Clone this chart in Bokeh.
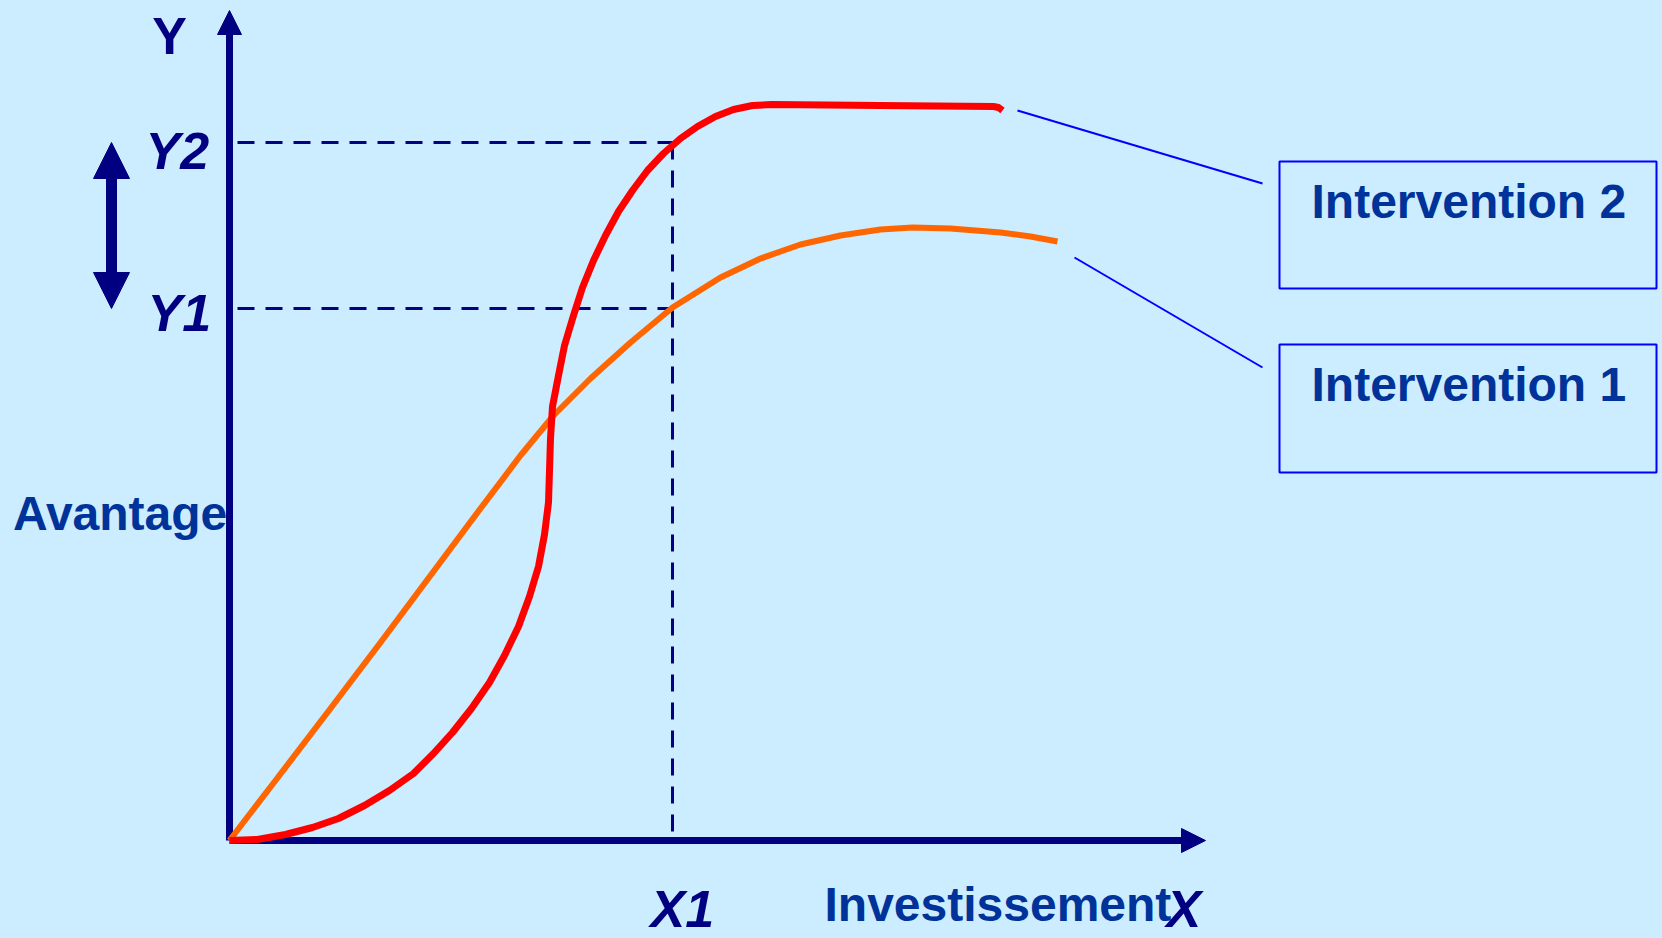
from bokeh.plotting import figure
from bokeh.models import Range1d, Arrow, NormalHead, ColumnDataSource
from bokeh.embed import file_html
from bokeh.resources import INLINE
from bokeh.core.properties import value

# ---------------- data (units: investment on x, advantage on y) ----------------
red_x = [0.00, 0.28, 0.56, 0.83, 1.09, 1.35, 1.60, 1.84, 2.04, 2.23, 2.42, 2.60, 2.75, 2.89,
         3.00, 3.09, 3.15, 3.19, 3.20, 3.21, 3.23, 3.29, 3.35, 3.44, 3.53, 3.64, 3.76, 3.89,
         4.03, 4.18, 4.34, 4.51, 4.68, 4.86, 5.04, 5.23, 5.42, 6.51, 7.64, 7.69, 7.73]
red_y = [0.00, 0.01, 0.06, 0.13, 0.22, 0.35, 0.50, 0.67, 0.87, 1.08, 1.32, 1.58, 1.85, 2.14,
         2.44, 2.74, 3.06, 3.38, 3.70, 4.02, 4.34, 4.65, 4.95, 5.25, 5.53, 5.80, 6.05, 6.29,
         6.50, 6.70, 6.87, 7.02, 7.14, 7.24, 7.31, 7.35, 7.36, 7.35, 7.34, 7.33, 7.30]

orange_x = [0.00, 0.46, 1.01, 1.51, 2.01, 2.51, 2.91, 3.24, 3.61, 4.01, 4.43, 4.91, 5.31,
            5.71, 6.11, 6.51, 6.83, 7.21, 7.71, 8.01, 8.28]
orange_y = [0.00, 0.60, 1.32, 1.98, 2.65, 3.32, 3.85, 4.25, 4.62, 4.98, 5.33, 5.63, 5.82,
            5.96, 6.05, 6.11, 6.13, 6.12, 6.08, 6.04, 5.99]

X1 = 4.43
Y1 = 5.32
Y2 = 6.98
X_MAX = 9.76
Y_MAX = 8.30
DASH_START = 0.08

# leader lines (curve end -> box)
lead_x0 = [7.88, 8.45]
lead_y0 = [7.30, 5.83]
lead_x1 = [10.33, 10.33]
lead_y1 = [6.57, 4.73]

# boxes
box_left = [10.50, 10.50]
box_right = [14.27, 14.27]
box_top = [6.79, 4.96]
box_bottom = [5.52, 3.68]
box_labels = ["Intervention 2", "Intervention 1"]
box_label_x = [10.82, 10.82]
box_label_y = [6.39, 4.56]

# axis titles
title_text = ["Avantage", "Investissement"]
title_x = [-2.165, 5.95]
title_y = [3.27, -0.64]

# axis marks
mark_text = ["Y2", "Y1", "X1", "X"]
mark_x = [-0.84, -0.82, 4.21, 9.37]
mark_y = [6.90, 5.28, -0.68, -0.68]

# double arrow (Y1 <-> Y2)
DA_X = -1.18

BG = "#CCECFF"
NAVY = "#000080"
TXT = "#003399"

p = figure(width=1662, height=938, output_backend="svg", toolbar_location=None,
           x_axis_type=None, y_axis_type=None,
           x_range=Range1d(-2.29, 14.33), y_range=Range1d(-0.98, 8.40),
           min_border=0, background_fill_color=BG, border_fill_color=BG,
           outline_line_color=None)

# axes as arrows (under the curves)
for (xs, ys, xe, ye) in [(0, 0, 0, Y_MAX), (0, 0, X_MAX, 0)]:
    p.add_layout(Arrow(x_start=xs, y_start=ys, x_end=xe, y_end=ye,
                       line_color=NAVY, line_width=7, level="underlay",
                       end=NormalHead(size=24, fill_color=NAVY, line_color=NAVY, line_width=1)))

# double arrow
p.add_layout(Arrow(x_start=DA_X, y_start=Y1, x_end=DA_X, y_end=Y2,
                   line_color=NAVY, line_width=11,
                   start=NormalHead(size=36, fill_color=NAVY, line_color=NAVY, line_width=1),
                   end=NormalHead(size=36, fill_color=NAVY, line_color=NAVY, line_width=1)))

# dashed reference lines
p.line([DASH_START, X1], [Y2, Y2], line_color=NAVY, line_width=3, line_dash="17 11")
p.line([DASH_START, X1], [Y1, Y1], line_color=NAVY, line_width=3, line_dash="17 11")
p.line([X1, X1], [Y2, 0], line_color=NAVY, line_width=3, line_dash="17 11")

# curves
p.line(orange_x, orange_y, line_color="#FF6600", line_width=6, line_join="round")
p.line(red_x, red_y, line_color="#FF0000", line_width=7, line_join="round")

# leaders
p.segment(lead_x0, lead_y0, lead_x1, lead_y1, line_color="#0000FF", line_width=2)

# boxes
p.quad(left=box_left, right=box_right, top=box_top, bottom=box_bottom,
       fill_color=None, line_color="#0000FF", line_width=2)

src_box = ColumnDataSource(dict(x=box_label_x, y=box_label_y, t=box_labels))
p.text(x="x", y="y", text="t", source=src_box, text_font=value("Liberation Sans"),
       text_font_style="bold", text_font_size="48px", text_color=TXT,
       text_align="left", text_baseline="alphabetic")

src_title = ColumnDataSource(dict(x=title_x, y=title_y, t=title_text))
p.text(x="x", y="y", text="t", source=src_title, text_font=value("Liberation Sans"),
       text_font_style="bold", text_font_size="48px", text_color=TXT,
       text_align="left", text_baseline="alphabetic")

src_mark = ColumnDataSource(dict(x=mark_x, y=mark_y, t=mark_text))
p.text(x="x", y="y", text="t", source=src_mark, text_font=value("Liberation Sans"),
       text_font_style="bold italic", text_font_size="52px", text_color=NAVY,
       text_align="left", text_baseline="alphabetic")

p.text(x=[-0.60], y=[8.05], text=["Y"], text_font=value("Liberation Sans"),
       text_font_style="bold", text_font_size="52px", text_color=NAVY,
       text_align="center", text_baseline="alphabetic")

html = file_html(p, INLINE)
html = html.replace("<head>", "<head><style>html,body{background:#CCECFF;}</style>", 1)
open("out.html", "w").write(html)
